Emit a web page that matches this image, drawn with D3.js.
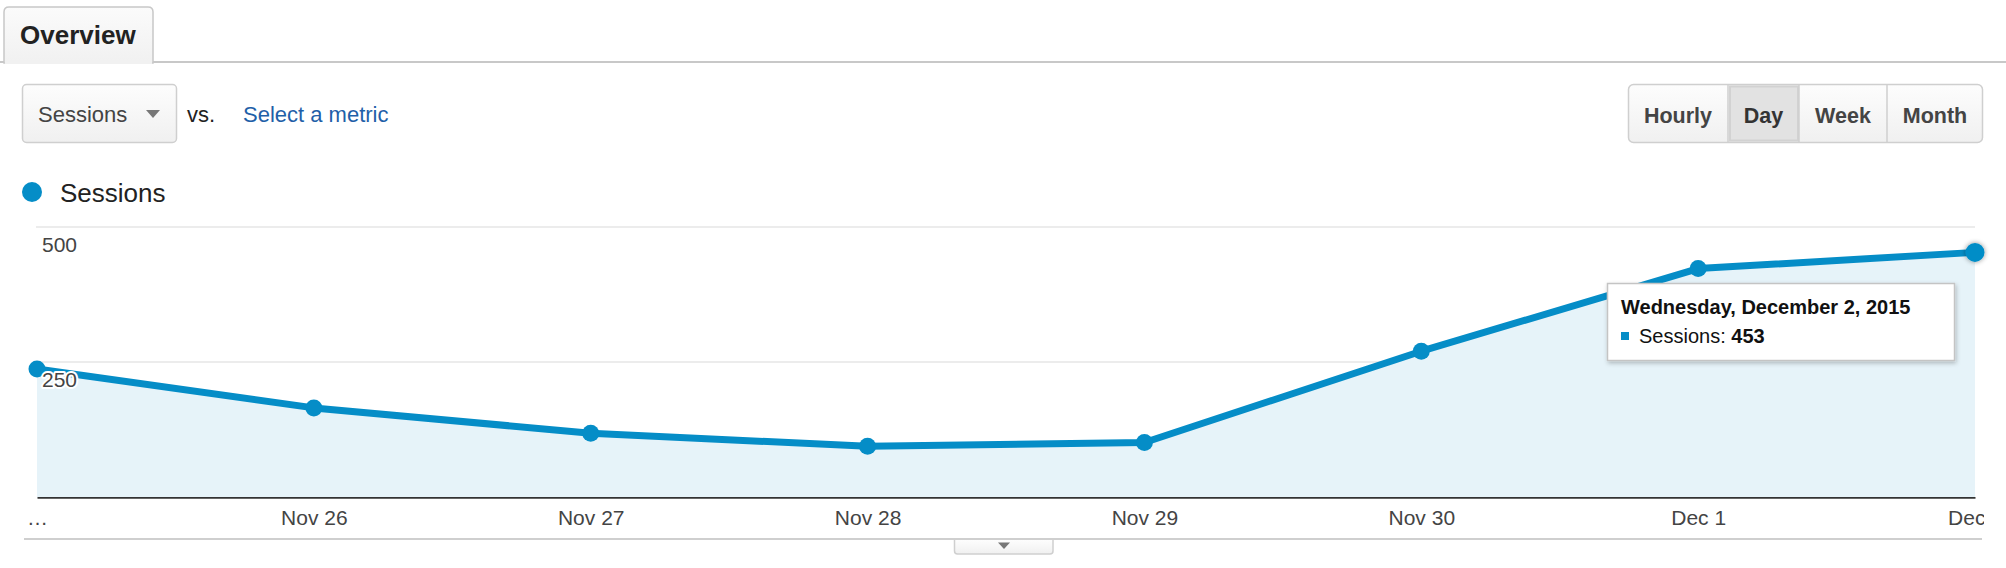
<!DOCTYPE html>
<html>
<head>
<meta charset="utf-8">
<script src="https://cdn.jsdelivr.net/npm/d3@7"></script>
<style>
  body { margin: 0; background: #fff; }
  svg { display: block; font-family: "Liberation Sans", Arial, Helvetica, sans-serif; }
</style>
</head>
<body>
<div id="overview"></div>
<script>
// data
var dates = ["Nov 25", "Nov 26", "Nov 27", "Nov 28", "Nov 29", "Nov 30", "Dec 1", "Dec 2"];
var tickLabels = ["\u2026", "Nov 26", "Nov 27", "Nov 28", "Nov 29", "Nov 30", "Dec 1", "Dec 2"];
var sessions = [237, 165, 118, 94, 101, 270, 423, 453];
var yTicks = [250, 500];
var intervals = ["Hourly", "Day", "Week", "Month"];
var selectedInterval = "Day";
var tooltipTitle = "Wednesday, December 2, 2015";
var metricName = "Sessions";

var width = 2006, height = 568;
var blue = "#058dc7";

var svg = d3.select("#overview").append("svg")
    .attr("width", width)
    .attr("height", height);

var defs = svg.append("defs");
var g1 = defs.append("linearGradient").attr("id", "btnGrad").attr("x1", 0).attr("y1", 0).attr("x2", 0).attr("y2", 1);
g1.append("stop").attr("offset", "0%").attr("stop-color", "#fdfdfd");
g1.append("stop").attr("offset", "100%").attr("stop-color", "#f0f0f0");
var g2 = defs.append("linearGradient").attr("id", "tabGrad").attr("x1", 0).attr("y1", 0).attr("x2", 0).attr("y2", 1);
g2.append("stop").attr("offset", "0%").attr("stop-color", "#fbfbfb");
g2.append("stop").attr("offset", "100%").attr("stop-color", "#f1f1f1");
var sh = defs.append("filter").attr("id", "shadow").attr("x", "-20%").attr("y", "-20%").attr("width", "140%").attr("height", "150%");
sh.append("feDropShadow").attr("dx", 1).attr("dy", 2).attr("stdDeviation", 2).attr("flood-color", "#000").attr("flood-opacity", 0.25);
var dot = defs.append("filter").attr("id", "dotShadow").attr("x", "-100%").attr("y", "-100%").attr("width", "300%").attr("height", "300%");
dot.append("feDropShadow").attr("dx", 0).attr("dy", 0).attr("stdDeviation", 2.5).attr("flood-color", "#000").attr("flood-opacity", 0.45);
defs.append("clipPath").attr("id", "axisClip")
    .append("rect").attr("x", 0).attr("y", 0).attr("width", 1984).attr("height", height);

// ---- header: tab ----
svg.append("line")
    .attr("x1", 0).attr("x2", width).attr("y1", 62).attr("y2", 62)
    .style("stroke", "#c8c8c8").style("stroke-width", 2);
svg.append("path")
    .attr("d", "M4,63 V12 Q4,7 9,7 H148 Q153,7 153,12 V63 Z")
    .style("fill", "url(#tabGrad)")
    .style("stroke", "#c8c8c8").style("stroke-width", 1.5);
svg.append("rect").attr("x", 5).attr("y", 60).attr("width", 147).attr("height", 4).style("fill", "#f1f1f1");
svg.append("text")
    .attr("x", 20).attr("y", 44)
    .style("font-size", "26px").style("font-weight", "bold").style("fill", "#222")
    .text("Overview");

// ---- metric dropdown ----
svg.append("rect")
    .attr("x", 22.5).attr("y", 84.5).attr("width", 154).attr("height", 58).attr("rx", 4)
    .style("fill", "url(#btnGrad)").style("stroke", "#cfcfcf").style("stroke-width", 1.5);
svg.append("text").attr("x", 38).attr("y", 122)
    .style("font-size", "22px").style("fill", "#444").text(metricName);
svg.append("path").attr("d", "M146,110 L160,110 L153,118 Z").style("fill", "#777");
svg.append("text").attr("x", 187).attr("y", 122)
    .style("font-size", "22px").style("fill", "#222").text("vs.");
svg.append("text").attr("x", 243).attr("y", 122)
    .style("font-size", "22px").style("fill", "#1f60a8").text("Select a metric");

// ---- interval buttons ----
var btnEdges = [1628, 1728, 1799, 1887, 1983];
var btns = svg.append("g");
btns.append("rect")
    .attr("x", 1628.5).attr("y", 84.5).attr("width", 354).attr("height", 58).attr("rx", 5)
    .style("fill", "url(#btnGrad)").style("stroke", "#cfcfcf").style("stroke-width", 1.5);
intervals.forEach(function(name, i){
    var x0 = btnEdges[i], x1 = btnEdges[i + 1];
    if(name === selectedInterval){
        btns.append("rect").attr("x", x0 + 1).attr("y", 85.5).attr("width", x1 - x0 - 1).attr("height", 56)
            .style("fill", "#e2e2e2");
        btns.append("rect").attr("x", x0 + 2).attr("y", 86.5).attr("width", x1 - x0 - 3).attr("height", 54)
            .style("fill", "none").style("stroke", "#d2d2d2").style("stroke-width", 2);
    }
    if(i > 0){
        btns.append("line").attr("x1", x0).attr("x2", x0).attr("y1", 85).attr("y2", 142)
            .style("stroke", "#cfcfcf").style("stroke-width", 1.5);
    }
    btns.append("text")
        .attr("x", (x0 + x1) / 2).attr("y", 123)
        .attr("text-anchor", "middle")
        .style("font-size", "21.5px").style("font-weight", "bold")
        .style("fill", name === selectedInterval ? "#333" : "#444")
        .text(name);
});

// ---- legend ----
svg.append("circle").attr("cx", 32).attr("cy", 192).attr("r", 10).style("fill", blue);
svg.append("text").attr("x", 60).attr("y", 202)
    .style("font-size", "26px").style("fill", "#222").text(metricName);

// ---- chart ----
var x = d3.scalePoint().domain(dates).range([37, 1975]);
var y = d3.scaleLinear().domain([0, 500]).range([497, 227]);

var chart = svg.append("g");

chart.selectAll(".grid")
    .data(yTicks)
    .enter().append("line")
    .attr("class", "grid")
    .attr("x1", 36).attr("x2", 1975)
    .attr("y1", function(d){ return y(d); })
    .attr("y2", function(d){ return y(d); })
    .style("stroke", "#ececec").style("stroke-width", 2);

var area = d3.area()
    .x(function(d, i){ return x(dates[i]); })
    .y0(y(0))
    .y1(function(d){ return y(d); });
chart.append("path")
    .datum(sessions)
    .attr("d", area)
    .style("fill", "#e6f3f9");

var line = d3.line()
    .x(function(d, i){ return x(dates[i]); })
    .y(function(d){ return y(d); });
chart.append("path")
    .datum(sessions)
    .attr("d", line)
    .style("fill", "none")
    .style("stroke", blue)
    .style("stroke-width", 7)
    .style("stroke-linejoin", "round");

chart.selectAll(".pt")
    .data(sessions)
    .enter().append("circle")
    .attr("class", "pt")
    .attr("cx", function(d, i){ return x(dates[i]); })
    .attr("cy", function(d){ return y(d); })
    .attr("r", function(d, i){ return i === sessions.length - 1 ? 9.5 : 8.5; })
    .attr("filter", function(d, i){ return i === sessions.length - 1 ? "url(#dotShadow)" : null; })
    .style("fill", blue);

// y labels, drawn over the series with a white halo
chart.selectAll(".ylab")
    .data(yTicks)
    .enter().append("text")
    .attr("class", "ylab")
    .attr("x", 42)
    .attr("y", function(d){ return y(d) + 25; })
    .style("font-size", "21px").style("fill", "#444")
    .style("stroke", "#fff").style("stroke-width", 4).style("paint-order", "stroke")
    .style("stroke-linejoin", "round")
    .text(function(d){ return d; });

// x axis
var xAxis = chart.append("g")
    .attr("transform", "translate(0," + y(0) + ")")
    .attr("clip-path", "url(#axisClip)")
    .call(d3.axisBottom(x).tickSize(0).tickSizeOuter(0)
        .tickFormat(function(d, i){ return tickLabels[i]; }));
xAxis.select(".domain").style("stroke", "#333").style("stroke-width", 2.5);
xAxis.selectAll("text")
    .attr("y", 28).attr("dy", 0)
    .style("font-family", "\"Liberation Sans\", Arial, sans-serif")
    .style("font-size", "21px").style("fill", "#444");

// bottom rule and collapse handle
svg.append("line")
    .attr("x1", 24).attr("x2", 1982).attr("y1", 539).attr("y2", 539)
    .style("stroke", "#cfcfcf").style("stroke-width", 2);
svg.append("path")
    .attr("d", "M954.5,540 V551 Q954.5,554 957.5,554 H1050 Q1053,554 1053,551 V540")
    .style("fill", "url(#btnGrad)").style("stroke", "#cfcfcf").style("stroke-width", 1.5);
svg.append("path").attr("d", "M998,542.5 L1010,542.5 L1004,549 Z").style("fill", "#777");

// ---- tooltip for the last point ----
var last = sessions.length - 1;
var tip = svg.append("g").attr("transform", "translate(1607,283)");
tip.append("rect")
    .attr("x", 0.5).attr("y", 0.5).attr("width", 347).attr("height", 77)
    .attr("filter", "url(#shadow)")
    .style("fill", "#fff").style("stroke", "#c4c4c4").style("stroke-width", 1.5);
tip.append("text").attr("x", 14).attr("y", 31)
    .style("font-size", "20px").style("font-weight", "bold").style("fill", "#111")
    .text(tooltipTitle);
tip.append("rect").attr("x", 14).attr("y", 49).attr("width", 8).attr("height", 8).style("fill", blue);
var tl = tip.append("text").attr("x", 32).attr("y", 60)
    .style("font-size", "20px").style("fill", "#111");
tl.append("tspan").text(metricName + ": ");
tl.append("tspan").style("font-weight", "bold").text(sessions[last]);
</script>
</body>
</html>
